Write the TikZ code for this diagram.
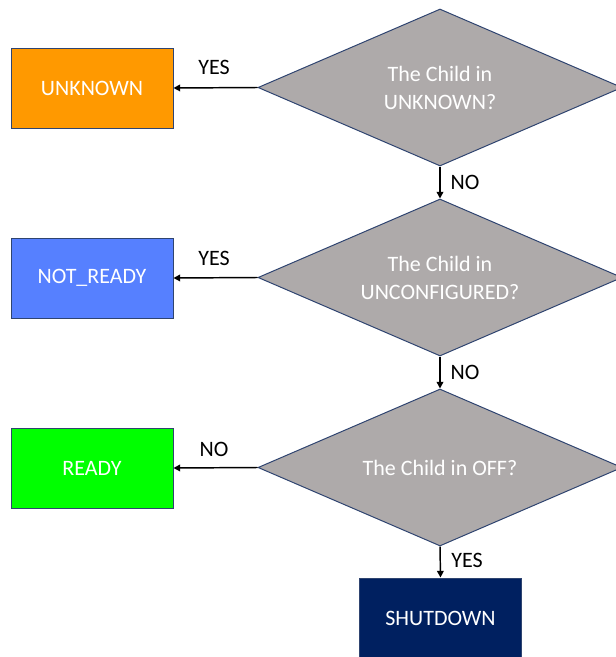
\documentclass[tikz,border=0pt]{standalone}
\usepackage{fontspec}
\setmainfont{Carlito}
\usetikzlibrary{shapes.geometric,arrows.meta}

\definecolor{stOrange}{HTML}{FF9900}
\definecolor{stBlue}{HTML}{5680FF}
\definecolor{stGreen}{HTML}{00FF00}
\definecolor{stNavy}{HTML}{002060}
\definecolor{qGray}{HTML}{AEAAAA}
\definecolor{edgeBlue}{HTML}{2F4470}

\tikzset{
  statebox/.style={draw=edgeBlue, line width=0.75pt, minimum width=121.5pt,
    minimum height=60pt, inner sep=0pt, text=white,
    font=\fontsize{16.5}{20}\selectfont},
  question/.style={diamond, aspect=2.3, draw=edgeBlue, line width=0.75pt,
    fill=qGray, minimum width=273pt, minimum height=117.75pt, inner sep=0pt,
    text=white, align=center, font=\fontsize{16.5}{21}\selectfont},
  flow/.style={draw=black, line width=1.1pt, -{Triangle[length=5pt,width=5pt]}},
  answer/.style={text=black, inner sep=0pt, font=\fontsize{16.5}{20}\selectfont}
}

\begin{document}
\begin{tikzpicture}[x=0.75pt,y=-0.75pt]
  \useasboundingbox (0,0) rectangle (616,657);

  % decision chain
  \node[question] (q1) at (440,87.5)  {The Child in\\UNKNOWN?};
  \node[question] (q2) at (440,277.5) {The Child in\\UNCONFIGURED?};
  \node[question] (q3) at (440,467.5) {The Child in OFF?};

  % resulting states
  \node[statebox, fill=stOrange] (unknown)  at (92,88)    {UNKNOWN};
  \node[statebox, fill=stBlue]   (notready) at (92,278)   {NOT\_READY};
  \node[statebox, fill=stGreen]  (ready)    at (92,468)   {READY};
  \node[statebox, fill=stNavy]   (shutdown) at (440.5,618) {SHUTDOWN};

  % connectors
  \draw[flow] (q1.west) -- (unknown.east);
  \draw[flow] (q2.west) -- (notready.east);
  \draw[flow] (q3.west) -- (ready.east);
  \draw[flow] (q1.south) -- (q2.north);
  \draw[flow] (q2.south) -- (q3.north);
  \draw[flow] (q3.south) -- (shutdown.north);

  % branch labels
  \node[answer] (l1) at (214,67)  {YES};
  \node[answer] (l2) at (214,258) {YES};
  \node[answer] (l3) at (214,449) {NO};
  \node[answer] (l4) at (465,182) {NO};
  \node[answer] (l5) at (465,372) {NO};
  \node[answer] (l6) at (467,560) {YES};
\end{tikzpicture}
\end{document}
